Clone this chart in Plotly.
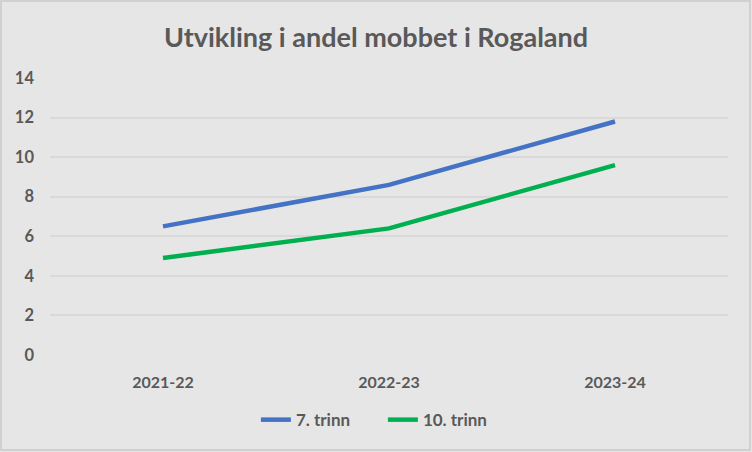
import plotly.graph_objects as go

years = ["2021-22", "2022-23", "2023-24"]
trinn7 = [6.5, 8.6, 11.8]
trinn10 = [4.9, 6.4, 9.6]

bg = "#E7E6E6"
txt = "#595959"

fig = go.Figure()
fig.add_trace(go.Scatter(x=years, y=trinn7, mode="lines", name="<b>7. trinn</b>",
                         line=dict(color="#4472C4", width=4.5)))
fig.add_trace(go.Scatter(x=years, y=trinn10, mode="lines", name="<b>10. trinn</b>",
                         line=dict(color="#00B050", width=4.5)))

fig.update_layout(
    width=752, height=452,
    paper_bgcolor=bg, plot_bgcolor=bg,
    margin=dict(l=50, r=24, t=78, b=97),
    font=dict(family="Lato", color=txt, size=15),
    title=dict(text="<b>Utvikling i andel mobbet i Rogaland</b>", x=0.5, xanchor="center",
               y=0.918, yanchor="middle", font=dict(size=27, color=txt)),
    xaxis=dict(showgrid=False, zeroline=False, showline=False, ticks="",
               tickfont=dict(size=16, color=txt), tickprefix="<b>", ticksuffix="</b>",
               ticklabelstandoff=16, range=[-0.5, 2.5]),
    yaxis=dict(range=[0, 14], dtick=2, gridcolor="#D9D9D9", gridwidth=1.5,
               zeroline=False, showline=False, ticks="",
               tickfont=dict(size=16.5, color=txt), tickprefix="<b>", ticksuffix="</b>",
               ticklabelstandoff=15),
    legend=dict(orientation="h", x=0.491, xanchor="center", y=-0.235, yanchor="middle",
                font=dict(size=17, color=txt), bgcolor="rgba(0,0,0,0)",
                entrywidth=82, entrywidthmode="pixels", traceorder="normal"),
    showlegend=True,
)
# thin frame round the whole chart
fig.add_shape(type="rect", xref="paper", yref="paper", x0=-0.0723, x1=1.0324, y0=-0.343, y1=1.278,
              line=dict(color="#D0D0D0", width=2), layer="below")

fig.write_html("out.html", config={"displayModeBar": False},
               post_script="document.body.style.margin='0';")
